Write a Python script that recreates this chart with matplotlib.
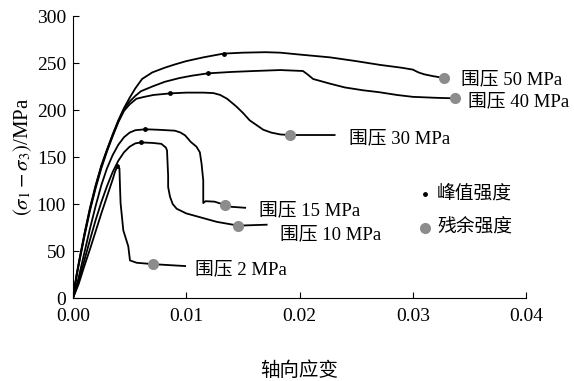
import matplotlib
matplotlib.use("Agg")
import matplotlib.pyplot as plt

plt.rcParams['font.family'] = ['Liberation Serif', 'Noto Sans CJK SC']
plt.rcParams['mathtext.fontset'] = 'stix'

# strain / stress, one list pair per confining pressure
e50 = [0, 0.0003, 0.0005, 0.001, 0.0015, 0.002, 0.0025, 0.003, 0.0035, 0.004, 0.0045, 0.005,
       0.0055, 0.0061, 0.007, 0.0081, 0.009, 0.01, 0.0115, 0.0133, 0.015, 0.017, 0.0183, 0.02,
       0.0227, 0.025, 0.0271, 0.029, 0.0300, 0.0305, 0.031, 0.0318, 0.0328]
s50 = [0, 24, 37, 68, 96, 120, 141, 158, 174, 189, 202, 213,
       223, 233, 240, 245, 248.5, 252, 256, 260, 261, 261.5, 261, 259,
       256, 252, 248, 245, 243, 240, 238, 236, 234]

e40 = [0, 0.0003, 0.0005, 0.001, 0.0015, 0.002, 0.0025, 0.003, 0.0035, 0.004, 0.0045, 0.005,
       0.0055, 0.006, 0.007, 0.0081, 0.0094, 0.0105, 0.0119, 0.014, 0.016, 0.0183, 0.0203,
       0.0207, 0.0212, 0.0227, 0.024, 0.0256, 0.027, 0.0286, 0.03, 0.032, 0.0337]
s40 = [0, 23, 36, 67, 95, 119, 140, 157, 173, 188, 201, 209,
       215, 220, 225, 230, 234, 236.5, 239, 240.5, 241.5, 242.5, 241.5,
       238, 233, 228, 224, 221, 219, 216, 214, 213, 212.4]

e30 = [0, 0.0003, 0.0005, 0.001, 0.0015, 0.002, 0.0025, 0.003, 0.0035, 0.004, 0.0045, 0.005,
       0.0056, 0.0063, 0.0071, 0.0086, 0.01, 0.0115, 0.0124, 0.013, 0.0136, 0.0144, 0.015,
       0.0156, 0.0162, 0.0168, 0.0175, 0.0183, 0.0192, 0.0231]
s30 = [0, 22, 35, 65, 93, 117, 138, 156, 172, 187, 199, 206,
       212, 214, 216, 217.7, 218.5, 218.5, 218, 216, 212, 204, 197,
       189, 184, 179, 176, 174, 173.4, 173.4]

e15 = [0, 0.0005, 0.001, 0.0015, 0.002, 0.0025, 0.003, 0.0035, 0.004, 0.0045, 0.005, 0.0055,
       0.0064, 0.0075, 0.009, 0.0095, 0.0099, 0.0104, 0.0109, 0.0112, 0.01135, 0.0115, 0.0115,
       0.0117, 0.0125, 0.0134, 0.014, 0.0152]
s15 = [0, 22, 48, 74, 98, 120, 138, 152, 163, 171, 176, 178.5,
       179.5, 179, 178, 176, 173, 166, 161, 155, 143, 125, 101,
       103, 102.5, 99, 97, 96]

e10 = [0, 0.0005, 0.001, 0.0015, 0.002, 0.0025, 0.003, 0.0035, 0.004, 0.0045, 0.005, 0.0055,
       0.006, 0.007, 0.0078, 0.0082, 0.0083, 0.0084, 0.0084, 0.00856, 0.0088, 0.00915, 0.01,
       0.0115, 0.0127, 0.0146, 0.0171]
s10 = [0, 18, 40, 62, 83, 102, 119, 134, 146, 155, 161, 164.5,
       165.5, 165, 164, 160, 157, 130, 118, 108, 100, 95, 90,
       85, 81, 77, 78]

e2 = [0, 0.0005, 0.001, 0.0015, 0.002, 0.0025, 0.003, 0.0035, 0.0037, 0.0039, 0.0041, 0.00415,
      0.0042, 0.00444, 0.00488, 0.00503, 0.00562, 0.0071, 0.0099]
s2 = [0, 15, 34, 52, 71, 90, 108, 126, 134, 140, 138, 118,
      101, 72, 55, 40, 37.5, 36, 34]

peak_e = [0.0039, 0.006, 0.0064, 0.0086, 0.0119, 0.0133]
peak_s = [140, 165.5, 179.5, 217.7, 239, 260]
res_e = [0.0071, 0.0146, 0.0134, 0.0192, 0.0337, 0.0328]
res_s = [36, 77, 99, 173.4, 212.4, 234]

labels = ['围压 2 MPa', '围压 10 MPa', '围压 15 MPa', '围压 30 MPa', '围压 40 MPa', '围压 50 MPa']
label_e = [0.01077, 0.0183, 0.0164, 0.0244, 0.0349, 0.0343]
label_s = [30, 67, 92.5, 170, 208.5, 232]

fig = plt.figure(figsize=(5.74, 3.81), dpi=100)
ax = fig.add_axes([0.1272, 0.2178, 0.7892, 0.7402])

for e, s in [(e2, s2), (e10, s10), (e15, s15), (e30, s30), (e40, s40), (e50, s50)]:
    ax.plot(e, s, color='black', lw=1.3)

ax.plot(res_e, res_s, 'o', color='#8c8c8c', ms=8, mec='none')
ax.plot(peak_e, peak_s, 'o', color='black', ms=3.5, mec='none')

for t, x, y in zip(labels, label_e, label_s):
    ax.text(x, y, t, fontsize=13.5, va='center', ha='left')

# legend drawn as plain marks in axes coordinates
ax.plot([0.776], [0.37], 'o', color='black', ms=3.5, mec='none', transform=ax.transAxes)
ax.plot([0.776], [0.25], 'o', color='#8c8c8c', ms=8, mec='none', transform=ax.transAxes)
ax.text(0.804, 0.37, '峰值强度', fontsize=13.5, va='center', transform=ax.transAxes)
ax.text(0.804, 0.25, '残余强度', fontsize=13.5, va='center', transform=ax.transAxes)

ax.set_xlim(0, 0.04)
ax.set_ylim(0, 300)
ax.set_xticks([0, 0.01, 0.02, 0.03, 0.04])
ax.set_xticklabels(['0.00', '0.01', '0.02', '0.03', '0.04'])
ax.set_yticks([0, 50, 100, 150, 200, 250, 300])
ax.spines['top'].set_visible(False)
ax.spines['right'].set_visible(False)
ax.tick_params(direction='in', length=4, labelsize=14, pad=7)
ax.tick_params(axis='y', pad=5)
ax.set_xlabel('轴向应变', fontsize=14, labelpad=26)
ax.set_ylabel(r'$(\sigma_1-\sigma_3)$/MPa', fontsize=15, labelpad=2)

fig.savefig('out.png', dpi=100)
